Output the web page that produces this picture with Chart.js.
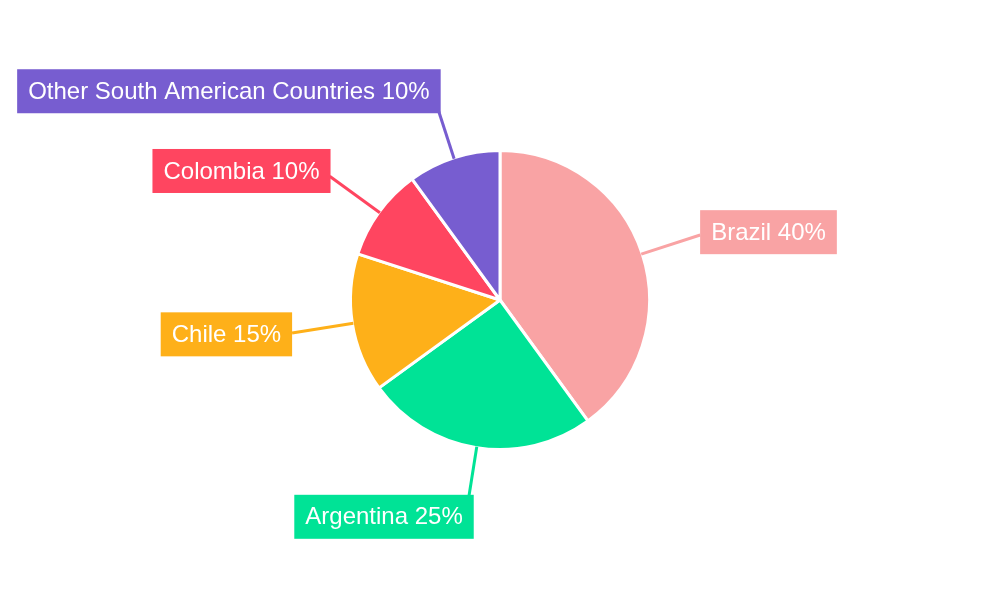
<!DOCTYPE html>
<html>
<head>
<meta charset="utf-8">
<title>South America share</title>
<script src="https://cdn.jsdelivr.net/npm/chart.js@4"></script>
<style>
  html, body { margin: 0; padding: 0; background: #fff; }
  #wrap { width: 1000px; height: 600px; }
</style>
</head>
<body>
<div id="wrap"><canvas id="myChart" width="1000" height="600"></canvas></div>
<script>
// data
const countries = ["Brazil", "Argentina", "Chile", "Colombia", "Other South American Countries"];
const shares = [40, 25, 15, 10, 10];
const sliceColors = ["#F9A3A4", "#00E396", "#FEB019", "#FF4560", "#775DD0"];

// boxed labels with a leader line from each slice
const outsideLabels = {
	id: "outsideLabels",
	afterDatasetsDraw(chart) {
		const c = chart.ctx;
		const meta = chart.getDatasetMeta(0);
		c.save();
		c.font = "24px 'Liberation Sans', Arial, sans-serif";
		c.textBaseline = "middle";
		meta.data.forEach((arc, i) => {
			const p = arc.getProps(["x", "y", "startAngle", "endAngle", "outerRadius"], true);
			const mid = (p.startAngle + p.endAngle) / 2;
			const dx = Math.cos(mid);
			const dy = Math.sin(mid);
			const r0 = p.outerRadius - 1;
			const r1 = p.outerRadius + 61;
			const ex = p.x + dx * r1;
			const ey = p.y + dy * r1;

			c.strokeStyle = sliceColors[i];
			c.lineWidth = 3;
			c.beginPath();
			c.moveTo(p.x + dx * r0, p.y + dy * r0);
			c.lineTo(ex, ey);
			c.stroke();

			const text = countries[i] + " " + shares[i] + "%";
			const w = c.measureText(text).width + 22;
			const h = 44;
			const shift = 7 * Math.pow(dy, 4);
			let left;
			if (dx >= 0) {
				left = ex - shift;
			} else {
				left = ex + shift - w;
			}
			const cy = ey + 9 * dy;
			c.fillStyle = sliceColors[i];
			c.fillRect(left, cy - h / 2, w, h);
			c.fillStyle = "#fff";
			c.textAlign = "center";
			c.fillText(text, left + w / 2, cy + 1);
		});
		c.restore();
	}
};

const ctx = document.getElementById("myChart").getContext("2d");
let myChart = new Chart(ctx, {
	type: "pie",
	data: {
		labels: countries,
		datasets: [
			{
				data: shares,
				backgroundColor: sliceColors,
				borderColor: "#fff",
				borderWidth: 3,
			},
		],
	},
	options: {
		responsive: false,
		animation: false,
		layout: {
			padding: { top: 149, bottom: 149, left: 0, right: 0 },
		},
		plugins: {
			legend: { display: false },
			tooltip: { enabled: false },
		},
	},
	plugins: [outsideLabels],
});
</script>
</body>
</html>
